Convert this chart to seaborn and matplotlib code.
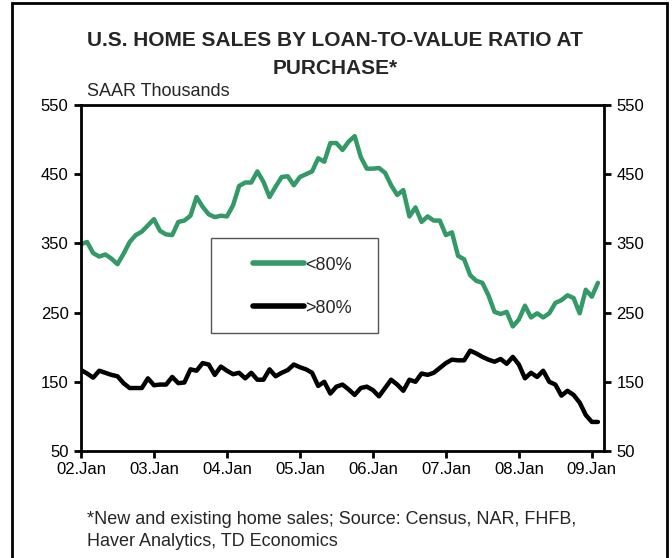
import pandas as pd
import matplotlib.pyplot as plt
import seaborn as sns
from matplotlib.patches import Rectangle

# monthly values, Jan 2002 .. Feb 2009 (SAAR thousands)
below_80 = [349, 352, 336, 331, 334, 328, 320, 335, 352, 362,
            367, 376, 385, 368, 363, 362, 381, 383, 390, 417,
            403, 392, 388, 390, 389, 405, 433, 438, 438, 454,
            439, 417, 432, 446, 447, 434, 446, 450, 454, 473,
            468, 495, 495, 485, 497, 505, 475, 458, 458, 459,
            452, 434, 420, 427, 389, 402, 381, 389, 383, 383,
            362, 366, 332, 327, 304, 296, 293, 275, 251, 248,
            251, 230, 240, 260, 243, 249, 243, 249, 264, 268,
            275, 271, 249, 283, 273, 293]
above_80 = [167, 162, 156, 166, 163, 160, 158, 148, 141, 141,
            141, 155, 145, 146, 146, 157, 148, 149, 168, 166,
            177, 175, 160, 172, 166, 161, 163, 155, 163, 153,
            153, 168, 158, 163, 167, 175, 171, 168, 163, 144,
            150, 133, 143, 146, 139, 131, 141, 143, 138, 129,
            141, 153, 146, 137, 153, 150, 162, 160, 163, 170,
            177, 182, 181, 181, 195, 191, 186, 182, 179, 183,
            176, 186, 175, 155, 163, 157, 166, 150, 146, 130,
            137, 131, 120, 102, 92, 92]
tick_labels = ['02.Jan', '03.Jan', '04.Jan', '05.Jan', '06.Jan', '07.Jan', '08.Jan', '09.Jan']
y_ticks = [50, 150, 250, 350, 450, 550]

months = list(range(len(below_80)))
df = pd.DataFrame({'month': months * 2,
                   'value': below_80 + above_80,
                   'series': ['<80%'] * len(below_80) + ['>80%'] * len(above_80)})

sns.set_style('ticks')
plt.rcParams['font.family'] = ['Liberation Sans', 'DejaVu Sans']

fig = plt.figure(figsize=(6.72, 5.58), dpi=100)
ax = fig.add_axes([81 / 672, 1 - 451 / 558, 523 / 672, 346 / 558])

sns.lineplot(data=df, x='month', y='value', hue='series',
             palette={'<80%': '#339966', '>80%': 'black'},
             linewidth=3.2, ax=ax)

ax.set_xlim(0, 86)
ax.set_ylim(50, 550)
ax.set_xticks([i * 12 for i in range(len(tick_labels))])
ax.set_xticklabels(tick_labels)
ax.set_yticks(y_ticks)
ax.set_xlabel('')
ax.set_ylabel('')
for s in ax.spines.values():
    s.set_linewidth(2)
    s.set_color('black')
ax.tick_params(axis='both', direction='out', length=5, width=2, labelsize=12, colors='black')
ax.tick_params(axis='y', right=True, labelright=True, pad=4)
ax.tick_params(axis='x', pad=3)

# legend box drawn separately so the padding can match the original
ax.add_patch(Rectangle((0.2486, 0.341), 0.319, 0.275, transform=ax.transAxes,
                       fill=False, edgecolor='#555555', linewidth=1, zorder=5))
leg = ax.legend(loc='center left', bbox_to_anchor=(0.329, 0.475), frameon=False,
                fontsize=13, handlelength=2.8, handletextpad=0.1,
                labelspacing=1.45, borderpad=0, borderaxespad=0)
for line in leg.get_lines():
    line.set_linewidth(4)
    line.set_solid_capstyle('round')

fig.text(335 / 672, 1 - 40 / 558, 'U.S. HOME SALES BY LOAN-TO-VALUE RATIO AT',
         ha='center', va='center', fontsize=15, fontweight='bold')
fig.text(335 / 672, 1 - 68 / 558, 'PURCHASE*',
         ha='center', va='center', fontsize=15, fontweight='bold')
fig.text(87 / 672, 1 - 92 / 558, 'SAAR Thousands', ha='left', va='center', fontsize=13)
fig.text(87 / 672, 1 - 520 / 558, '*New and existing home sales; Source: Census, NAR, FHFB,',
         ha='left', va='center', fontsize=13)
fig.text(87 / 672, 1 - 541 / 558, 'Haver Analytics, TD Economics',
         ha='left', va='center', fontsize=13)

fig.patches.append(Rectangle((12 / 672, -0.05), 655 / 672, 1.05 - 3 / 558,
                             transform=fig.transFigure, fill=False,
                             edgecolor='black', linewidth=2))

fig.savefig('out.png', dpi=100)
